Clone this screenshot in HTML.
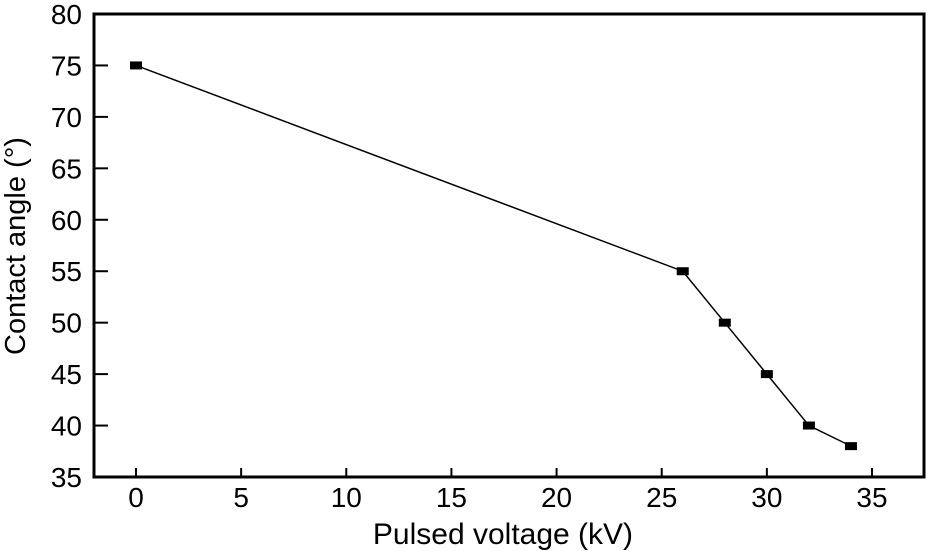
<!DOCTYPE html>
<html><head><meta charset="utf-8"><style>
html,body{margin:0;padding:0;background:#fff;}
svg{display:block;font-family:"Liberation Sans",Arial,sans-serif;}
</style></head><body>
<svg id="chart" width="932" height="551" viewBox="0 0 932 551">
<rect x="94" y="14" width="830" height="463" fill="none" stroke="#000" stroke-width="3"/>
<g id="yticks"></g>
<g id="xticks"></g>
<polyline id="line" fill="none" stroke="#000" stroke-width="1.5"/>
<g id="marks"></g>
<text x="503" y="544" font-size="30" text-anchor="middle">Pulsed voltage (kV)</text>
<text transform="translate(25,246) rotate(-90)" font-size="29" text-anchor="middle">Contact angle (°)</text>
</svg>
<script>
const xValues=[0,26,28,30,32,34];
const yValues=[75,55,50,45,40,38];
const xTickLabels=[0,5,10,15,20,25,30,35];
const yTickLabels=[35,40,45,50,55,60,65,70,75,80];
const NS="http://www.w3.org/2000/svg";
function sx(v){return 136+(v-0)*(872-136)/35;}
function sy(v){return 477-(v-35)*(477-14)/45;}
function mk(t,a){const e=document.createElementNS(NS,t);for(const k in a)e.setAttribute(k,a[k]);return e;}
const yg=document.getElementById('yticks');
yTickLabels.forEach(v=>{
 const y=sy(v);
 if(v>35&&v<80){const l=mk('line',{x1:94,x2:108,y1:y,y2:y,stroke:'#000','stroke-width':2});
 
 yg.appendChild(l);}
 const t=mk('text',{x:82,y:y+10,'font-size':28,'text-anchor':'end'});t.textContent=v;
 
 yg.appendChild(t);
});
const xg=document.getElementById('xticks');
xTickLabels.forEach(v=>{
 const x=sx(v);
 const l=mk('line',{x1:x,x2:x,y1:477,y2:468,stroke:'#000','stroke-width':2});
 
 xg.appendChild(l);
 const t=mk('text',{x:x,y:507,'font-size':28,'text-anchor':'middle'});t.textContent=v;
 
 xg.appendChild(t);
});
document.getElementById('line').setAttribute('points',xValues.map((x,i)=>sx(x)+','+sy(yValues[i])).join(' '));
const mg=document.getElementById('marks');
xValues.forEach((x,i)=>{
 const r=mk('rect',{x:sx(x)-6,y:sy(yValues[i])-4,width:12,height:8,fill:'#000'});
 
 mg.appendChild(r);
});
</script>
</body></html>
